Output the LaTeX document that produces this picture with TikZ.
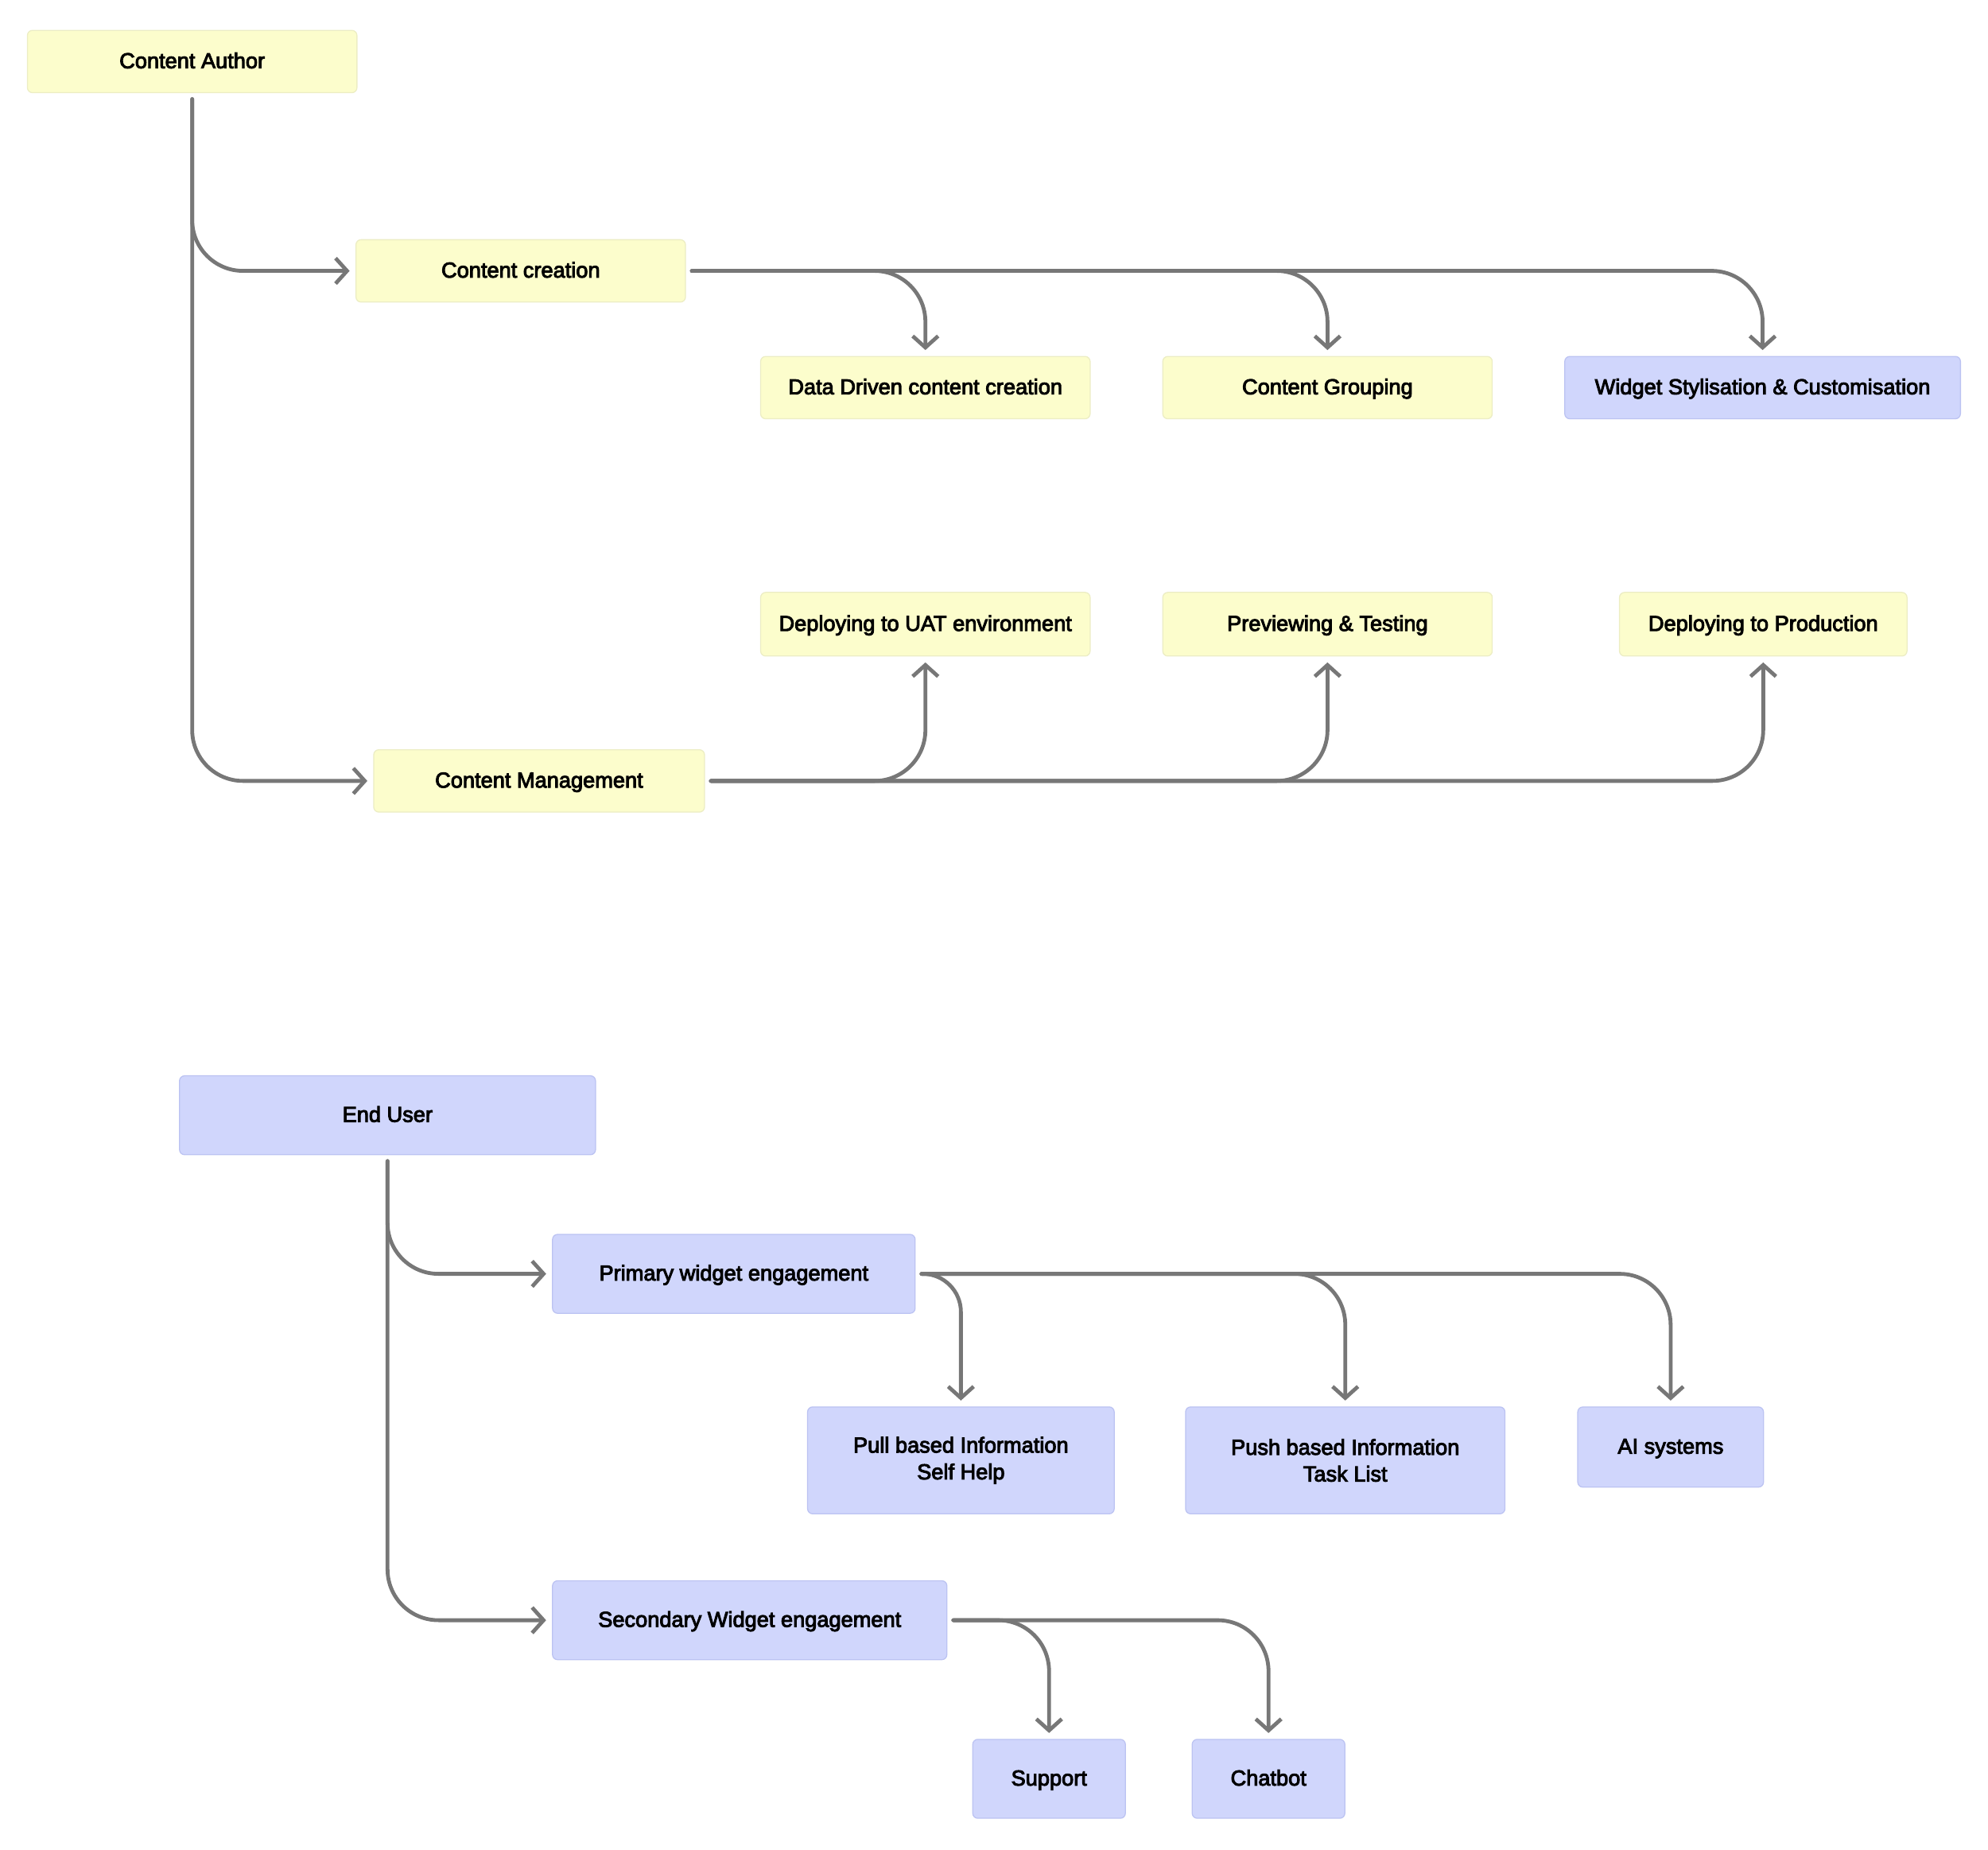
\documentclass[tikz,border=0pt]{standalone}
\usepackage{fontspec}
\setmainfont{Liberation Sans}
\newfontfamily\boxfont{Liberation Sans}[FakeBold=3.5]
\usepackage{xcolor}
\usepackage{tikz}
\usetikzlibrary{arrows.meta}
\definecolor{authorfill}{HTML}{FCFDCC}
\definecolor{authorline}{HTML}{ECEDC4}
\definecolor{userfill}{HTML}{D0D6FC}
\definecolor{userline}{HTML}{BCC3F2}
\definecolor{flowgray}{HTML}{777777}

\begin{document}
\begin{tikzpicture}[x=0.997pt, y=-0.997pt,
  every node/.style={font=\boxfont\fontsize{17}{21}\selectfont, align=center, rounded corners=4pt, outer sep=5pt, inner sep=0pt, text height=13.5pt, text depth=3pt},
  twoline/.style={text height=, text depth=},
  author/.style={fill=authorfill, draw=authorline, line width=0.8pt, minimum height=49pt},
  user/.style={fill=userfill, draw=userline, line width=0.8pt, minimum height=62pt},
  flow/.style={draw=flowgray, line width=3pt, line cap=round, rounded corners=40pt, -{Straight Barb[length=9pt, width=20pt]}}]
  \useasboundingbox (0,0) rectangle (1567.2,1457.5);
  % content author side
  \node[author, minimum width=259pt](ca) at (151.5,48.5){Content Author};
  \node[author, minimum width=259pt](cc) at (410.5,213.5){Content creation};
  \node[author, minimum width=260pt](cm) at (425,615.5){Content Management};
  \node[author, minimum width=259pt](dd) at (729.5,305.5){Data Driven content creation};
  \node[author, minimum width=259pt](cg) at (1046.5,305.5){Content Grouping};
  \node[user, minimum width=311pt, minimum height=49pt](ws) at (1389.5,305.5){Widget Stylisation \& Customisation};
  \node[author, minimum width=259pt, minimum height=50pt](uat) at (729.5,492){Deploying to UAT environment};
  \node[author, minimum width=259pt, minimum height=50pt](pt) at (1046.5,492){Previewing \& Testing};
  \node[author, minimum width=226pt, minimum height=50pt](prod) at (1390,492){Deploying to Production};
  \draw[flow] (ca.south) |- (cc.west);
  \draw[flow] (ca.south) |- (cm.west);
  \draw[flow] (cc.east) -| (dd.north);
  \draw[flow] (cc.east) -| (cg.north);
  \draw[flow] (cc.east) -| (ws.north);
  \draw[flow] (cm.east) -| (uat.south);
  \draw[flow] (cm.east) -| (pt.south);
  \draw[flow] (cm.east) -| (prod.south);
  % end user side
  \node[user, minimum width=327pt](eu) at (305.5,879){End User};
  \node[user, minimum width=285pt](pw) at (578.5,1004){Primary widget engagement};
  \node[user, minimum width=310pt](sw) at (591,1277){Secondary Widget engagement};
  \node[user, twoline, minimum width=241pt, minimum height=84pt](pull) at (757.5,1151){Pull based Information\\Self Help};
  \node[user, twoline, minimum width=251pt, minimum height=84pt](push) at (1060.5,1151){Push based Information\\Task List};
  \node[user, minimum width=146pt, minimum height=63pt](ai) at (1317,1140.5){AI systems};
  \node[user, minimum width=120pt](sup) at (827,1402){Support};
  \node[user, minimum width=120pt](chat) at (1000,1402){Chatbot};
  \draw[flow] (eu.south) |- (pw.west);
  \draw[flow] (eu.south) |- (sw.west);
  \draw[flow, rounded corners=30pt] (pw.east) -| (pull.north);
  \draw[flow] (pw.east) -| (push.north);
  \draw[flow] (pw.east) -| (ai.north);
  \draw[flow] (sw.east) -| (sup.north);
  \draw[flow] (sw.east) -| (chat.north);
\end{tikzpicture}
\end{document}
